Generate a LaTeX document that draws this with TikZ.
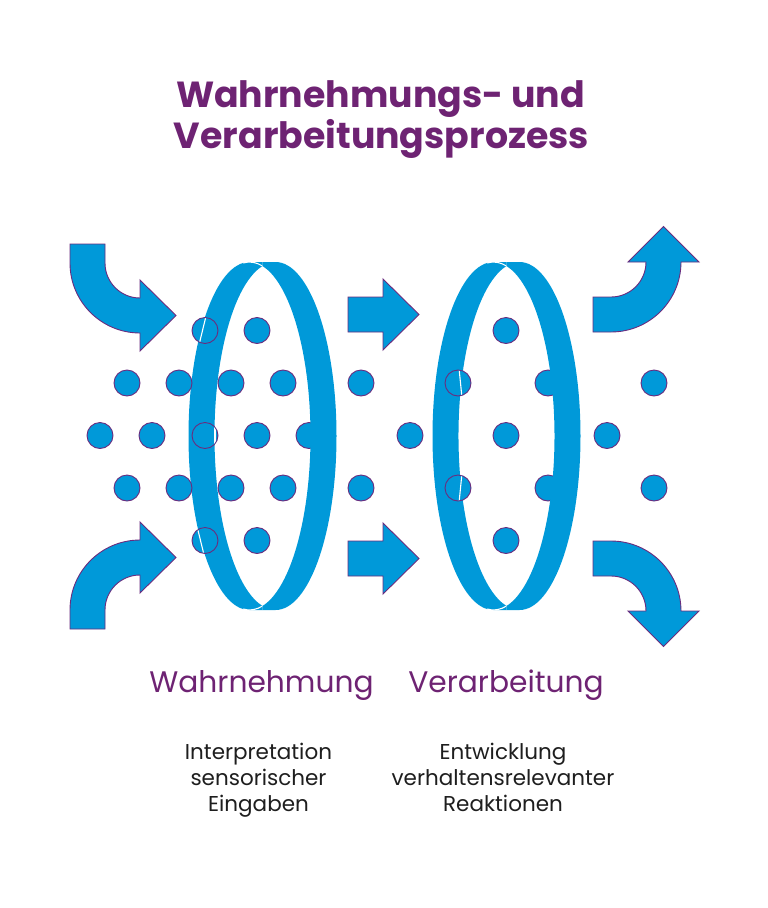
\documentclass[tikz,border=0pt]{standalone}
\usepackage{fontspec}
\setmainfont{Poppins}
\definecolor{cblue}{HTML}{0099D9}
\definecolor{cpurple}{HTML}{6A2C7E}
\definecolor{ctitle}{HTML}{6E2373}
\definecolor{ctext}{HTML}{1E1E1E}
\tikzset{
  dot/.style={circle, inner sep=0pt, minimum size=26pt, fill=cblue, draw=cpurple, line width=0.9pt},
  arrowshape/.style={fill=cblue, draw=cpurple, line width=0.9pt, line join=miter},
  band/.style={fill=cblue, even odd rule},
  gapline/.style={draw=white, line width=1.1pt},
  titletext/.style={font=\fontsize{36.3}{40}\selectfont\bfseries, text=ctitle, anchor=base, inner sep=0pt},
  labeltext/.style={font=\fontsize{29.7}{32}\selectfont, text=ctitle, anchor=base, inner sep=0pt},
  smalltext/.style={font=\fontsize{21.5}{24}\selectfont, text=ctext, anchor=base, inner sep=0pt}
}
% ring band: hull of two ellipses minus their intersection; #1 = centre of front ellipse
\newcommand{\ringpath}[1]{%
  (#1,-262) arc[start angle=90, end angle=270, x radius=61, y radius=174]
  -- ++(26,0) arc[start angle=-90, end angle=90, x radius=61, y radius=174] -- cycle
  (#1,-436) ++(-77.7:61 and 174) arc[start angle=-77.7, end angle=77.7, x radius=61, y radius=174]
  arc[start angle=102.3, end angle=257.7, x radius=61, y radius=174] -- cycle}
\begin{document}
\begin{tikzpicture}[x=1pt,y=1pt]
\useasboundingbox (0,0) rectangle (768,-908);
\fill[white] (0,0) rectangle (768,-908);

% left (front) parts of the rings, behind the dots
\begin{scope}
  \clip (0,0) rectangle (262.5,-908);
  \fill[band] \ringpath{249.5};
\end{scope}
\begin{scope}
  \clip (0,0) rectangle (506.5,-908);
  \fill[band] \ringpath{493.5};
\end{scope}
% white seams at top and bottom of the rings
\foreach \c in {249.5,493.5} {
  \draw[gapline] (\c,-436) ++(77.7:61 and 174) arc[start angle=77.7, end angle=96, x radius=61, y radius=174];
  \draw[gapline] (\c,-436) ++(-77.7:61 and 174) arc[start angle=-77.7, end angle=-96, x radius=61, y radius=174];
}

% curved arrows left
\draw[arrowshape] (70,-244) -- (105,-244) -- (105,-263) arc[start angle=180, end angle=270, radius=35]
  -- (140,-280) -- (176,-315.5) -- (140,-351) -- (140,-333) arc[start angle=270, end angle=180, radius=70] -- cycle;
\draw[arrowshape] (70,-629) -- (105,-629) -- (105,-610) arc[start angle=180, end angle=90, radius=35]
  -- (140,-593) -- (176,-557.5) -- (140,-522) -- (140,-540) arc[start angle=90, end angle=180, radius=70] -- cycle;
% straight arrows
\draw[arrowshape] (348,-297) -- (383,-297) -- (383,-279) -- (419,-314.5) -- (383,-350) -- (383,-332) -- (348,-332) -- cycle;
\draw[arrowshape] (348,-576) -- (383,-576) -- (383,-594) -- (419,-558.5) -- (383,-523) -- (383,-541) -- (348,-541) -- cycle;
% curved arrows right
\draw[arrowshape] (593,-297) -- (611,-297) arc[start angle=270, end angle=360, radius=35]
  -- (628,-262) -- (663.5,-226.5) -- (699,-262) -- (681,-262) arc[start angle=0, end angle=-90, radius=70] -- (593,-332) -- cycle;
\draw[arrowshape] (593,-576) -- (611,-576) arc[start angle=90, end angle=0, radius=35]
  -- (628,-611) -- (663.5,-646.5) -- (699,-611) -- (681,-611) arc[start angle=0, end angle=90, radius=70] -- (593,-541) -- cycle;

% dots
\foreach \n/\x/\y in {
  a1/205/330.5, a2/257/330.5,
  b1/127/383, b2/179/383, b3/231/383, b4/283/383,
  c1/100/435.5, c2/152/435.5, c3/205/435.5, c4/257/435.5, c5/309/435.5,
  e1/127/488, e2/179/488, e3/231/488, e4/283/488,
  f1/205/540.5, f2/257/540.5,
  m1/361/383, m2/410/435.5, m3/361/488,
  l1/506/330.5, l2/458/383, l3/548/383, l4/506/435.5, l5/458/488, l6/548/488, l7/506/540.5,
  r1/654/383, r2/607/435.5, r3/654/488}
  \node[dot] (\n) at (\x,-\y) {};

% thin white gaps across dots lying on the bands
\begin{scope}
  \clip (205,-330.5) circle (12.4);
  \draw[gapline] (207.5,-310) -- (197.5,-351);
\end{scope}
\begin{scope}
  \clip (205,-435.5) circle (12.4);
  \draw[gapline] (215,-420) -- (215,-451);
\end{scope}
\begin{scope}
  \clip (205,-540.5) circle (12.4);
  \draw[gapline] (195.5,-520) -- (205.5,-561);
\end{scope}
\begin{scope}
  \clip (458,-383) circle (12.4);
  \draw[gapline] (458.2,-360) -- (462.8,-406);
\end{scope}
\begin{scope}
  \clip (458,-488) circle (12.4);
  \draw[gapline] (462.8,-465) -- (458.2,-511);
\end{scope}

% right (back) parts of the rings, in front of the dots
\begin{scope}
  \clip (262.5,0) rectangle (768,-908);
  \fill[band] \ringpath{249.5};
\end{scope}
\begin{scope}
  \clip (506.5,0) rectangle (768,-908);
  \fill[band] \ringpath{493.5};
\end{scope}

% texts
\node[titletext] (t1) at (380.5,-107) {Wahrnehmungs- und};
\node[titletext] (t2) at (381.5,-148) {Verarbeitungsprozess};
\node[labeltext] (w) at (261.5,-692) {Wahrnehmung};
\node[labeltext] (v) at (506,-692) {Verarbeitung};
\node[smalltext] (s1) at (258.5,-759) {Interpretation};
\node[smalltext] (s2) at (258.5,-785) {sensorischer};
\node[smalltext] (s3) at (258.5,-811.5) {Eingaben};
\node[smalltext] (p1) at (503,-759) {Entwicklung};
\node[smalltext] (p2) at (503,-785) {verhaltensrelevanter};
\node[smalltext] (p3) at (503,-811.5) {Reaktionen};
\end{tikzpicture}
\end{document}
